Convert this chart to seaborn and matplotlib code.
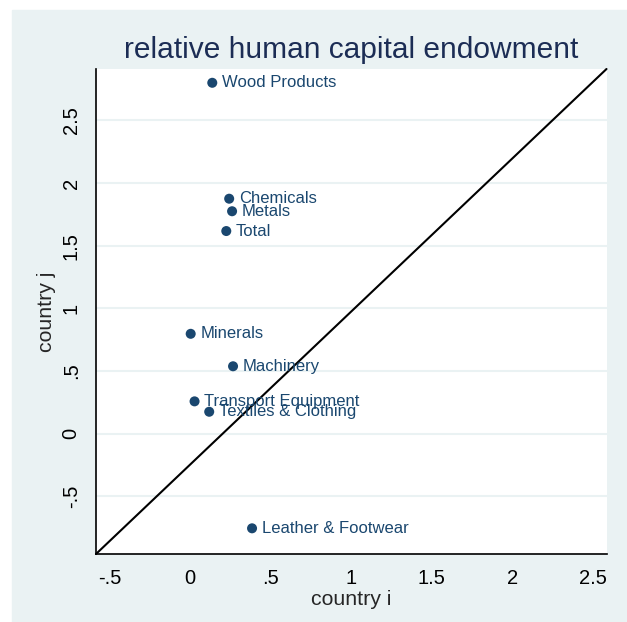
import matplotlib
matplotlib.use("Agg")
import matplotlib.pyplot as plt
import seaborn as sns
import pandas as pd
from matplotlib.patches import Rectangle

# relative human capital endowment, country i vs country j
industries = ["Wood Products", "Chemicals", "Metals", "Total", "Minerals",
              "Machinery", "Transport Equipment", "Textiles & Clothing",
              "Leather & Footwear"]
country_i = [0.137, 0.242, 0.260, 0.224, 0.003, 0.266, 0.027, 0.118, 0.384]
country_j = [2.80, 1.875, 1.775, 1.617, 0.797, 0.538, 0.258, 0.175, -0.755]

x_ticks = [-0.5, 0, 0.5, 1, 1.5, 2, 2.5]
y_ticks = [-0.5, 0, 0.5, 1, 1.5, 2, 2.5]
tick_labels = ["-.5", "0", ".5", "1", "1.5", "2", "2.5"]
x_range = [-0.585, 2.585]
y_range = [-0.96, 2.91]

BG = "#eaf2f3"
NAVY = "#1a476f"


def main():
    sns.set_style("white")
    plt.rcParams["font.family"] = ["Liberation Sans", "DejaVu Sans"]

    df = pd.DataFrame({"industry": industries, "i": country_i, "j": country_j})

    fig = plt.figure(figsize=(6.27, 6.22), dpi=100, facecolor="white")
    fig.add_artist(Rectangle((12 / 627, 0), 1, 1 - 10 / 622,
                             transform=fig.transFigure, color=BG, zorder=-10))
    ax = fig.add_axes([96 / 627, 1 - 554 / 622, 510.5 / 627, 485 / 622])
    ax.set_facecolor("white")

    # grid on y only
    for v in y_ticks:
        ax.axhline(v, color=BG, lw=1.5, zorder=0)

    sns.scatterplot(data=df, x="i", y="j", ax=ax, color=NAVY, s=52,
                    edgecolor="none", zorder=3)
    for _, r in df.iterrows():
        ax.annotate(r["industry"], (r["i"], r["j"]), xytext=(7, 0),
                    textcoords="offset points", va="center", ha="left",
                    fontsize=12, color=NAVY, zorder=4)

    # diagonal reference line
    ax.plot(x_range, y_range, color="black", lw=1.5, zorder=2, clip_on=False)

    ax.set_xlim(x_range)
    ax.set_ylim(y_range)
    ax.set_xticks(x_ticks)
    ax.set_xticklabels(tick_labels)
    ax.set_yticks(y_ticks)
    ax.set_yticklabels(tick_labels, rotation=90, va="center")
    ax.tick_params(axis="both", direction="out", length=7, width=1,
                   color="#555555", labelsize=14.5, labelcolor="black", pad=4)

    for side in ["top", "right"]:
        ax.spines[side].set_visible(False)
    for side in ["left", "bottom"]:
        ax.spines[side].set_color("black")
        ax.spines[side].set_linewidth(1.2)

    ax.set_xlabel("country i", fontsize=15.3, labelpad=1)
    ax.set_ylabel("country j", fontsize=15.3, labelpad=4)
    ax.set_title("relative human capital endowment", fontsize=21.5,
                 color="#1c2d55", pad=8)

    fig.savefig("out.png", dpi=100, facecolor=fig.get_facecolor())


if __name__ == "__main__":
    main()
